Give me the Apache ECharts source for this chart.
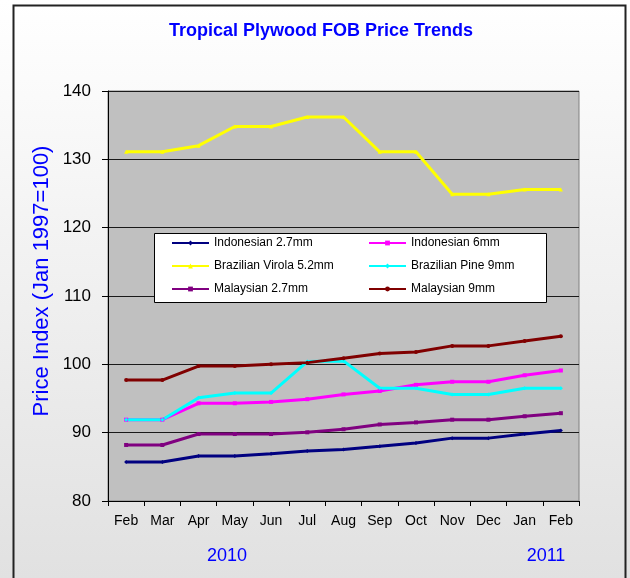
<!DOCTYPE html>
<html>
<head>
<meta charset="utf-8">
<script src="https://cdn.jsdelivr.net/npm/echarts@6/dist/echarts.min.js"></script>
<style>
  html, body { margin: 0; padding: 0; }
  #chart { width: 630px; height: 578px; }
</style>
</head>
<body>
<div id="chart"></div>
<script>
// months on the x axis (Feb 2010 .. Feb 2011)
const months = ["Feb", "Mar", "Apr", "May", "Jun", "Jul", "Aug", "Sep", "Oct", "Nov", "Dec", "Jan", "Feb"];
const years = ["2010", "2011"];
const yTicks = [80, 90, 100, 110, 120, 130, 140];

// price index series
const indonesian27 = [85.7, 85.7, 86.6, 86.6, 86.9, 87.3, 87.55, 88.0, 88.5, 89.2, 89.2, 89.8, 90.3];
const indonesian6 = [91.9, 91.9, 94.3, 94.3, 94.5, 94.9, 95.6, 96.1, 97.0, 97.45, 97.45, 98.4, 99.1];
const brazilVirola = [131.1, 131.1, 132.0, 134.8, 134.8, 136.2, 136.2, 131.1, 131.1, 124.9, 124.9, 125.6, 125.6];
const brazilPine = [91.9, 91.9, 95.1, 95.8, 95.8, 100.4, 100.5, 96.5, 96.5, 95.6, 95.6, 96.5, 96.5];
const malaysian27 = [88.2, 88.2, 89.8, 89.8, 89.8, 90.05, 90.5, 91.2, 91.5, 91.9, 91.9, 92.4, 92.85];
const malaysian9 = [97.7, 97.7, 99.75, 99.75, 100.0, 100.25, 100.9, 101.6, 101.8, 102.7, 102.7, 103.4, 104.1];

const names = ["Indonesian 2.7mm", "Indonesian 6mm", "Brazilian Virola 5.2mm",
               "Brazilian Pine 9mm", "Malaysian 2.7mm", "Malaysian 9mm"];
const values = [indonesian27, indonesian6, brazilVirola, brazilPine, malaysian27, malaysian9];
const colors = ["#000080", "#ff00ff", "#ffff00", "#00ffff", "#800080", "#800000"];
const symbols = ["diamond", "rect", "triangle", "diamond", "rect", "circle"];

const chart = echarts.init(document.getElementById("chart"));

const legendCommon = {
  orient: "vertical",
  top: 236,
  padding: 0,
  itemGap: 9,
  itemWidth: 37,
  itemHeight: 6,
  textStyle: { fontFamily: "Liberation Sans", fontSize: 12, color: "#000", lineHeight: 14 },
};

const option = {
  animation: false,
  textStyle: { fontFamily: "Liberation Sans" },
  graphic: [
    {
      type: "rect", z: -10, silent: true,
      shape: { x: 0, y: 0, width: 630, height: 578 },
      style: {
        fill: new echarts.graphic.LinearGradient(0, 0, 0, 1, [
          { offset: 0, color: "#ffffff" },
          { offset: 1, color: "#e1e1e1" },
        ]),
      },
    },
    {
      type: "rect", z: 10, silent: true,
      shape: { x: 13.5, y: 5.5, width: 612, height: 600 },
      style: { fill: "none", stroke: "#222", lineWidth: 2 },
    },
    {
      type: "text", z: 10, x: 321, y: 31,
      style: {
        text: "Tropical Plywood FOB Price Trends",
        fontFamily: "Liberation Sans", fontSize: 18, fontWeight: "bold",
        fill: "#0000ff", align: "center", verticalAlign: "middle",
      },
    },
    {
      type: "text", z: 10, x: 42, y: 281, rotation: Math.PI / 2,
      style: {
        text: "Price Index (Jan 1997=100)",
        fontFamily: "Liberation Sans", fontSize: 22,
        fill: "#0000ff", align: "center", verticalAlign: "middle",
      },
    },
    {
      type: "text", z: 10, x: 227, y: 556,
      style: {
        text: years[0], fontFamily: "Liberation Sans", fontSize: 18,
        fill: "#0000ff", align: "center", verticalAlign: "middle",
      },
    },
    {
      type: "text", z: 10, x: 546, y: 556,
      style: {
        text: years[1], fontFamily: "Liberation Sans", fontSize: 18,
        fill: "#0000ff", align: "center", verticalAlign: "middle",
      },
    },
    // legend box
    {
      type: "rect", z: 3, silent: true,
      shape: { x: 154.5, y: 233.5, width: 392, height: 69 },
      style: { fill: "#fff", stroke: "#000", lineWidth: 1 },
    },
  ],
  legend: [
    Object.assign({}, legendCommon, { left: 171, data: [names[0], names[2], names[4]] }),
    Object.assign({}, legendCommon, { left: 368, data: [names[1], names[3], names[5]] }),
  ],
  grid: {
    left: 108, right: 51, top: 91, bottom: 77,
    show: true,
    backgroundColor: "#c0c0c0",
    borderColor: "#808080",
    borderWidth: 1,
  },
  xAxis: {
    type: "category",
    data: months,
    boundaryGap: true,
    axisLine: { lineStyle: { color: "#000", width: 1 } },
    axisTick: { show: true, length: 5, interval: 0, lineStyle: { color: "#000" } },
    axisLabel: { color: "#000", fontSize: 14, margin: 13, interval: 0 },
  },
  yAxis: {
    type: "value",
    min: yTicks[0],
    max: yTicks[yTicks.length - 1],
    interval: 10,
    axisLine: { show: true, lineStyle: { color: "#000", width: 1 } },
    axisTick: { show: true, length: 6, lineStyle: { color: "#000" } },
    axisLabel: { color: "#000", fontSize: 17, margin: 17 },
    splitLine: { lineStyle: { color: "#1a1a1a", width: 1 } },
  },
  series: names.map((name, i) => ({
    name: name,
    type: "line",
    data: values[i],
    color: colors[i],
    symbol: symbols[i],
    symbolSize: 4,
    lineStyle: { width: 3, color: colors[i] },
    itemStyle: { color: colors[i] },
  })),
};

chart.setOption(option);
</script>
</body>
</html>
